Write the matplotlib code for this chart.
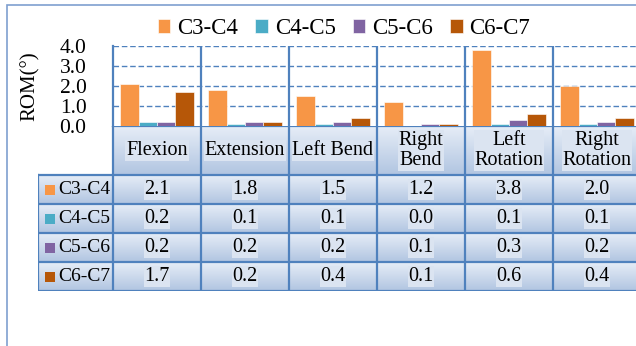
#!/usr/bin/env python3
"""ROM per motion segment: grouped bars with an Excel-style data table underneath."""
import numpy as np
import matplotlib
matplotlib.use("Agg")
import matplotlib.pyplot as plt
from matplotlib.colors import LinearSegmentedColormap
from matplotlib.patches import Rectangle

plt.rcParams["font.family"] = ["Liberation Serif", "DejaVu Serif"]

# --- data ---------------------------------------------------------------------
motions = ["Flexion", "Extension", "Left Bend", "Right\nBend", "Left\nRotation", "Right\nRotation"]
segments = ["C3-C4", "C4-C5", "C5-C6", "C6-C7"]
c3_c4 = [2.1, 1.8, 1.5, 1.2, 3.8, 2.0]
c4_c5 = [0.2, 0.1, 0.1, 0.0, 0.1, 0.1]
c5_c6 = [0.2, 0.2, 0.2, 0.1, 0.3, 0.2]
c6_c7 = [1.7, 0.2, 0.4, 0.1, 0.6, 0.4]
colors = ["#f79646", "#4bacc6", "#8064a2", "#b65708"]
yticks = [0.0, 1.0, 2.0, 3.0, 4.0]

BLUE = "#4f81bd"
W, H = 636, 346
cell_cmap = LinearSegmentedColormap.from_list("cell", ["#e6edf7", "#b1c5e1"])


def fx(px):
    return px / W


def fy(px):  # pixel row from top -> figure fraction
    return 1 - px / H


def main():
    series = [c3_c4, c4_c5, c5_c6, c6_c7]
    n = len(motions)
    fig = plt.figure(figsize=(W / 100, H / 100), dpi=100)

    # bars
    ax = fig.add_axes([fx(113), fy(126), fx(88 * n), fy(46) - fy(126)])
    x = np.arange(n)
    bw = 0.21
    for i, (vals, c) in enumerate(zip(series, colors)):
        ax.bar(x + (i - 1.5) * bw, vals, bw, color=c, edgecolor=(1, 1, 1, 0.7),
               lw=0.6, label=segments[i], zorder=3)
    ax.set_xlim(-0.5, n - 0.5)
    ax.set_ylim(0, 4)
    ax.set_xticks([])
    ax.set_yticks(yticks)
    ax.set_yticklabels([f"{v:.1f}" for v in yticks], fontsize=15.5)
    ax.tick_params(axis="y", length=0, pad=19)
    for v in yticks[1:]:
        ax.axhline(v, color=BLUE, lw=1, ls=(0, (4, 2)), zorder=1)
    for k in range(1, n):
        ax.axvline(k - 0.5, color=BLUE, lw=1.6, zorder=2)
    for s in ["top", "right", "bottom"]:
        ax.spines[s].set_visible(False)
    ax.spines["left"].set_color(BLUE)
    ax.spines["left"].set_linewidth(1.6)
    ax.set_ylabel("ROM(°)", fontsize=15)
    ax.yaxis.set_label_coords((40 - 113) / (88 * n), 0.5)

    # data table, same x units as the bars, y in pixel rows (0 = table bottom)
    left_col = 75 / 88
    tax = fig.add_axes([fx(38), fy(291), fx(88 * n + 75), fy(126) - fy(291)])
    tax.set_xlim(-0.5 - left_col, n - 0.5)
    tax.set_ylim(0, 165)
    tax.axis("off")
    grad = np.linspace(0, 1, 64).reshape(-1, 1)
    head_h, row_h = 49, 29
    top = 165
    # header row
    tax.imshow(grad, cmap=cell_cmap, aspect="auto", extent=(-0.5, n - 0.5, top - head_h, top),
               origin="upper", zorder=0)
    for k, m in enumerate(motions):
        tax.text(k, top - head_h / 2, m, ha="center", va="center", fontsize=14.5,
                 linespacing=1.1, zorder=3,
                 bbox=dict(fc="#dbe4f1", ec="none", pad=0.6))
    # data rows
    for r, (seg, vals, c) in enumerate(zip(segments, series, colors)):
        y1 = top - head_h - r * row_h
        y0 = y1 - row_h
        tax.imshow(grad, cmap=cell_cmap, aspect="auto", extent=(-0.5 - left_col, n - 0.5, y0, y1),
                   origin="upper", zorder=0)
        yc = (y0 + y1) / 2
        tax.add_patch(Rectangle((-0.5 - left_col + 7 / 88, yc - 5), 10 / 88, 10, fc=c, ec="none", zorder=3))
        tax.text(-0.5 - left_col + 20 / 88, yc, seg, ha="left", va="center", fontsize=14, zorder=3)
        for k, v in enumerate(vals):
            tax.text(k, yc, f"{v:.1f}", ha="center", va="center", fontsize=14.5, zorder=3,
                     bbox=dict(fc="#dbe4f1", ec="none", pad=0.6))
    # grid lines of the table
    lw = 1.6
    tax.plot([-0.5, n - 0.5], [top, top], color=BLUE, lw=lw, zorder=4)
    for r in range(len(segments) + 1):
        yy = top - head_h - r * row_h
        tax.plot([-0.5 - left_col, n - 0.5], [yy, yy], color=BLUE, lw=lw, zorder=4)
    tax.plot([-0.5 - left_col] * 2, [0, top - head_h], color=BLUE, lw=lw, zorder=4)
    for k in range(n + 1):
        tax.plot([k - 0.5] * 2, [0, top], color=BLUE, lw=lw, zorder=4)

    # legend
    handles, labels = ax.get_legend_handles_labels()
    fig.legend(handles, labels, loc="center", bbox_to_anchor=(fx(344), fy(29)), ncol=4,
               frameon=False, fontsize=16.5, handlelength=0.55, handleheight=0.55,
               handletextpad=0.3, columnspacing=0.75, borderaxespad=0)

    # outer chart border (cropped on the right and bottom)
    fig.add_artist(Rectangle((fx(7), -0.2), 1.2, fy(5) + 0.2, transform=fig.transFigure,
                             fill=False, ec="#7f9fcf", lw=1.2))

    fig.savefig("out.png", dpi=100)
    plt.close(fig)


if __name__ == "__main__":
    main()
